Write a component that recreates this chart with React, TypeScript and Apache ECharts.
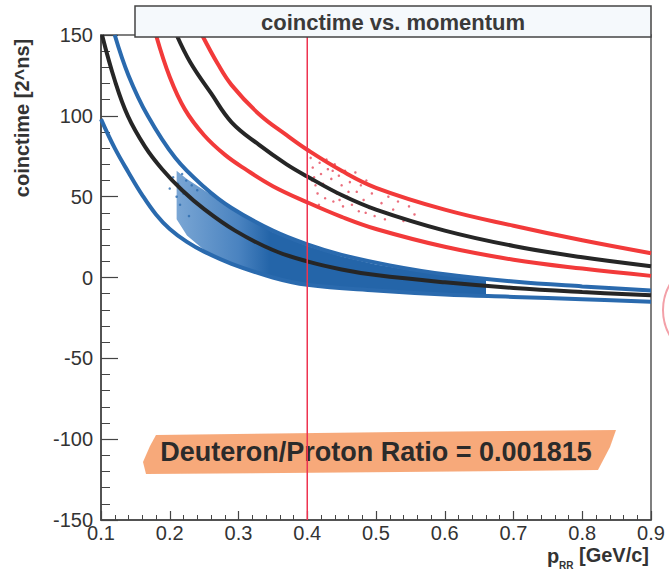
import React, { useEffect, useRef } from "react";
import * as echarts from "echarts";

// ---- data ----
const xTicks = [0.1, 0.2, 0.3, 0.4, 0.5, 0.6, 0.7, 0.8, 0.9];
const yTicks = [-150, -100, -50, 0, 50, 100, 150];

const protonUpperP = [0.12, 0.14, 0.168, 0.208, 0.25, 0.29, 0.35, 0.4, 0.45, 0.52, 0.6, 0.7, 0.8, 0.9];
const protonUpperT = [150, 125, 100, 74, 56, 43, 29, 20.5, 14, 7.5, 2, -2.5, -5.5, -8];

const protonMidP = [0.1015, 0.12, 0.139, 0.164, 0.189, 0.218, 0.251, 0.295, 0.35, 0.4, 0.45, 0.5, 0.6, 0.7, 0.8, 0.9];
const protonMidT = [150, 122, 100, 81, 67, 54, 42, 29, 17, 10, 5, 1.5, -3, -6.5, -9, -11];

const protonLowerP = [0.1, 0.12, 0.14, 0.16, 0.18, 0.2, 0.225, 0.25, 0.29, 0.35, 0.4, 0.5, 0.6, 0.7, 0.8, 0.9];
const protonLowerT = [98, 80, 65, 51, 39, 30, 22, 16, 8.5, 0, -4.5, -8, -10.5, -12, -13.5, -15];

const deutUpperP = [0.247, 0.27, 0.29, 0.33, 0.37, 0.4, 0.45, 0.5, 0.6, 0.7, 0.8, 0.9];
const deutUpperT = [150, 132, 119, 101, 88, 79, 66, 55.5, 42, 32, 23, 15];

const deutMidP = [0.21, 0.23, 0.26, 0.29, 0.33, 0.37, 0.4, 0.45, 0.5, 0.6, 0.7, 0.8, 0.9];
const deutMidT = [150, 133, 114, 96, 82, 70, 62.5, 51, 42, 29, 19.5, 12.5, 7];

const deutLowerP = [0.18, 0.2, 0.222, 0.25, 0.28, 0.31, 0.35, 0.4, 0.45, 0.5, 0.6, 0.7, 0.8, 0.9];
const deutLowerT = [150, 124, 104, 88, 76, 67, 56.5, 46.5, 37.5, 30, 19, 11, 5.5, 1];

// dense proton band (filled region)
const bandP = [0.21, 0.225, 0.25, 0.275, 0.3, 0.35, 0.4, 0.45, 0.5, 0.55, 0.6, 0.66];
const bandTop = [66, 61, 54, 47, 40, 28, 19.5, 13, 8, 4.5, 1.5, -1.5];
const bandBottom = [36, 26, 17, 11.5, 7, 0, -4.5, -6.5, -8, -9, -10.5, -11.5];

// sparse proton points above the band on the left
const protonDotsP = [0.2, 0.205, 0.21, 0.212, 0.215, 0.218, 0.22, 0.224, 0.228, 0.232, 0.236, 0.24];
const protonDotsT = [55, 62, 50, 58, 45, 64, 52, 60, 38, 57, 47, 54];

// deuteron candidate points
const deutDotsP = [0.405, 0.408, 0.41, 0.412, 0.415, 0.418, 0.42, 0.423, 0.426, 0.43, 0.432, 0.435, 0.438, 0.44, 0.443, 0.446, 0.45, 0.452, 0.455, 0.458, 0.462, 0.465, 0.468, 0.472, 0.475, 0.478, 0.482, 0.486, 0.49, 0.494, 0.498, 0.503, 0.508, 0.513, 0.518, 0.525, 0.532, 0.54, 0.548, 0.556, 0.407, 0.417, 0.428, 0.437, 0.447, 0.46, 0.47, 0.485];
const deutDotsT = [74, 68, 62, 57, 52, 71, 64, 58, 49, 67, 55, 61, 47, 70, 52, 63, 57, 44, 66, 50, 59, 45, 62, 53, 41, 57, 48, 60, 43, 52, 38, 55, 46, 36, 50, 42, 47, 35, 44, 39, 60, 45, 73, 66, 48, 53, 65, 40];

const cutP = 0.4;
const titleText = "coinctime vs. momentum";
const yTitle = "coinctime [2^ns]";
const ratioText = "Deuteron/Proton Ratio = 0.001815";

const zip = (a: number[], b: number[]) => a.map((v, i) => [v, b[i]]);

const FONT = "Liberation Sans, Arial, sans-serif";
const BLUE = "#2a6aae";
const RED = "#f23a3a";
const BLACK = "#262626";

export default function App() {
  const ref = useRef<HTMLDivElement>(null);
  useEffect(() => {
    if (!ref.current) return;
    const chart = echarts.init(ref.current, null, { renderer: "svg" });
    const line = (p: number[], t: number[], color: string) => ({
      type: "line",
      data: zip(p, t),
      smooth: 0.4,
      showSymbol: false,
      symbol: "none",
      lineStyle: { color, width: 4 },
      z: 3,
    });
    const option = {
      animation: false,
      backgroundColor: "#ffffff",
      grid: { left: 101, top: 35, width: 550, height: 485, show: true, borderColor: "#555", borderWidth: 1.5, backgroundColor: "transparent" },
      xAxis: {
        type: "value",
        min: xTicks[0],
        max: xTicks[xTicks.length - 1],
        interval: 0.1,
        axisLine: { show: true, onZero: false, lineStyle: { color: "#444", width: 1.5 } },
        axisTick: { show: true, inside: true, length: 9, lineStyle: { color: "#444", width: 1.2 } },
        minorTick: { show: true, splitNumber: 5, length: 5, lineStyle: { color: "#444", width: 1 } },
        splitLine: { show: false },
        axisLabel: { color: "#333", fontSize: 20, fontFamily: FONT, margin: 3, formatter: (v: number) => v.toFixed(1) },
      },
      yAxis: {
        type: "value",
        min: yTicks[0],
        max: yTicks[yTicks.length - 1],
        interval: 50,
        axisLine: { show: true, onZero: false, lineStyle: { color: "#444", width: 1.5 } },
        axisTick: { show: true, inside: true, length: 17, lineStyle: { color: "#444", width: 1.2 } },
        minorTick: { show: true, splitNumber: 5, length: 9, lineStyle: { color: "#444", width: 1 } },
        splitLine: { show: false },
        axisLabel: { color: "#333", fontSize: 20, fontFamily: FONT, margin: 8 },
      },
      series: [
        {
          type: "custom",
          data: [[0.4, 0]],
          z: 2,
          renderItem: (params: any, api: any) => {
            const up = bandP.map((p, i) => api.coord([p, bandTop[i]]));
            const lo = bandP.map((p, i) => api.coord([p, bandBottom[i]])).reverse();
            return {
              type: "polygon",
              shape: { points: up.concat(lo) },
              style: {
                fill: new echarts.graphic.LinearGradient(0, 0, 1, 0, [
                  { offset: 0, color: "#7aa6d4" },
                  { offset: 0.2, color: "#4a83c0" },
                  { offset: 0.3, color: "#2465a9" },
                  { offset: 1, color: "#2465a9" },
                ]),
              },
            };
          },
        },
        {
          type: "scatter",
          data: zip(protonDotsP, protonDotsT),
          symbolSize: 2.5,
          itemStyle: { color: BLUE },
          z: 2,
        },
        {
          type: "scatter",
          data: zip(deutDotsP, deutDotsT),
          symbolSize: 2.5,
          itemStyle: { color: "#e64a5c" },
          z: 2,
        },
        line(protonUpperP, protonUpperT, BLUE),
        line(protonLowerP, protonLowerT, BLUE),
        line(protonMidP, protonMidT, BLACK),
        line(deutUpperP, deutUpperT, RED),
        line(deutLowerP, deutLowerT, RED),
        line(deutMidP, deutMidT, BLACK),
        {
          type: "line",
          data: [[cutP, yTicks[0]], [cutP, yTicks[yTicks.length - 1]]],
          showSymbol: false,
          symbol: "none",
          lineStyle: { color: "#ee3350", width: 1.5 },
          z: 10,
        },
      ],
      graphic: [
        {
          type: "polygon",
          z: 4,
          shape: { points: [[156, 435], [400, 432], [616, 430], [610, 447], [598, 470], [400, 472], [146, 474], [143, 462], [150, 446]] },
          style: { fill: "#f6a26f", opacity: 0.92 },
        },
        {
          type: "text",
          z: 5,
          x: 376,
          y: 452,
          style: { text: ratioText, fontSize: 27, fontWeight: "bold", fontFamily: FONT, fill: "#2b2b2b", align: "center", verticalAlign: "middle" },
        },
        {
          type: "rect",
          z: 20,
          shape: { x: 135, y: 6, width: 516, height: 31 },
          style: { fill: "#f5f9fc", stroke: "#444", lineWidth: 1.5 },
        },
        {
          type: "text",
          z: 21,
          x: 393,
          y: 22,
          style: { text: titleText, fontSize: 22, fontWeight: "bold", fontFamily: FONT, fill: "#3a3a3a", align: "center", verticalAlign: "middle" },
        },
        {
          type: "text",
          z: 21,
          x: 22,
          y: 118,
          rotation: Math.PI / 2,
          style: { text: yTitle, fontSize: 20, fontWeight: "bold", fontFamily: FONT, fill: "#333", align: "center", verticalAlign: "middle" },
        },
        {
          type: "text",
          z: 21,
          x: 547,
          y: 556,
          style: { text: "p", fontSize: 20, fontWeight: "bold", fontFamily: FONT, fill: "#333", verticalAlign: "middle" },
        },
        {
          type: "text",
          z: 21,
          x: 559,
          y: 565,
          style: { text: "RR", fontSize: 10, fontWeight: "bold", fontFamily: FONT, fill: "#333", verticalAlign: "middle" },
        },
        {
          type: "text",
          z: 21,
          x: 579,
          y: 555,
          style: { text: "[GeV/c]", fontSize: 20, fontWeight: "bold", fontFamily: FONT, fill: "#333", verticalAlign: "middle" },
        },
        {
          type: "arc",
          z: 1,
          shape: { cx: 715, cy: 310, r: 52, startAngle: Math.PI * 0.62, endAngle: Math.PI * 1.38 },
          style: { stroke: "#f3a0a8", lineWidth: 2, fill: "none" },
        },
      ],
    };
    chart.setOption(option as any);
    return () => chart.dispose();
  }, []);
  return <div ref={ref} style={{ position: "fixed", left: 0, top: 0, width: 669, height: 579 }} />;
}
